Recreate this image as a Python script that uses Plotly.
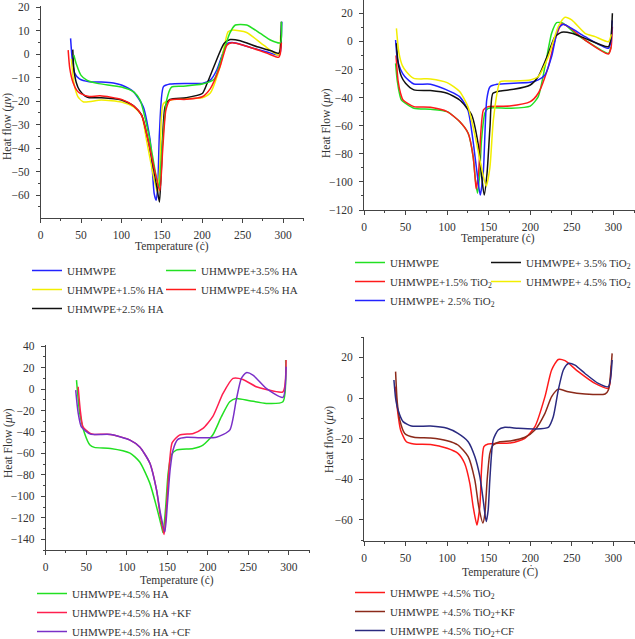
import plotly.graph_objects as go

# ---------------- Panel 1 : UHMWPE + HA ----------------
p1_uhmwpe_T = [37, 39, 42, 48, 60, 75, 90, 100, 115, 127, 135.5, 140.5, 143, 145, 147, 152, 160, 180, 200, 210, 218, 226, 231, 237, 250, 264, 280, 294.6, 296.7, 298.5]
p1_uhmwpe_v = [6.8, -2, -8, -10.5, -11.7, -11.8, -12.2, -13.1, -16, -22.4, -36.6, -59.4, -62.2, -56, -33.8, -13.8, -12.7, -12.4, -12.4, -11, -6.7, 1, 4.6, 5, 4, 2.5, 1, -0.3, 1, 13.9]
p1_ha15_T = [38, 41, 46, 53, 75, 100, 115, 125, 131, 139.7, 144.7, 148, 152, 165, 200, 210, 222, 232, 237, 255, 276, 294.6, 297]
p1_ha15_v = [-2, -12, -18, -20.3, -19.5, -20.3, -22.4, -26, -36.6, -52, -59, -45, -21, -19.2, -18.5, -16.5, -5.3, 9.6, 10.3, 9.3, 3.9, -0.3, 8]
p1_ha25_T = [39.7, 41, 44, 48, 55, 60, 75, 100, 115, 125, 133, 143.8, 147, 149.5, 154, 160, 180, 200, 206, 216, 227, 234.7, 247, 268, 285, 294.6, 296.5, 298]
p1_ha25_v = [2, -6, -12, -15.3, -17.8, -18.5, -18.5, -19.5, -22, -25.9, -36.6, -56.5, -63, -48, -22.4, -19.2, -18.5, -16.7, -12.4, -3.9, 4.6, 6.3, 5.8, 3.2, 1.5, 0.4, 2, 13.9]
p1_ha35_T = [41, 44, 50, 57, 70, 100, 115, 123, 133.5, 143.8, 146.5, 150, 156, 162, 175, 200, 215, 222, 234, 241, 255, 272, 285, 296.7, 298]
p1_ha35_v = [-0.3, -4, -9, -11, -12.4, -13.9, -16, -19.5, -33.8, -53.7, -57, -41, -19.5, -14, -13.6, -12.7, -10.5, -3.9, 8.9, 12.5, 12.5, 8.9, 6, 4.9, 13.9]
p1_ha45_T = [34, 36, 40, 45, 49, 60, 73.5, 100, 115, 125, 133, 141.7, 147.5, 151, 155, 160, 180, 200, 210, 222, 230.6, 237, 250, 263.6, 280, 294.6, 296.5, 298]
p1_ha45_v = [1.8, -6, -12, -15.5, -16.7, -18, -17.7, -19.2, -22, -26, -36.6, -50.5, -58.2, -41, -23.8, -19.5, -19.2, -18.1, -14.6, -5.3, 3.9, 4.9, 4, 2.5, 0.5, -1.3, 0, 5]

# ---------------- Panel 2 : UHMWPE + TiO2 ----------------
p2_uhmwpe_T = [38, 40, 43, 45, 60, 80, 100, 115, 125.3, 131.3, 134, 136.5, 139, 141.4, 145.4, 149.4, 175, 200, 209.6, 217.7, 225.7, 231.7, 239.8, 253.8, 265.9, 294, 297]
p2_uhmwpe_v = [-15.6, -28, -38, -41.7, -47.6, -48.3, -50, -57, -65.4, -82, -98.6, -108, -96, -70, -51, -47.6, -47.6, -46, -39.3, -18, 5.8, 13.4, 12.9, 5.8, 1, -8.5, -4]
p2_ti15_T = [38.5, 41, 44, 47, 60, 80, 100, 115, 125.3, 131.3, 133.5, 135, 138, 140.5, 143.7, 149.4, 175, 200, 209.6, 221.7, 229.7, 237.8, 245.8, 265.9, 294, 297, 298.8]
p2_ti15_v = [-10, -28, -37, -41.7, -46.4, -46.9, -50, -57, -65.4, -82, -96, -105, -92, -65, -48.8, -46.4, -46, -42.9, -36.9, -18, 1, 12.4, 10.5, 1, -8.9, -5, 10.5]
p2_ti25_T = [38, 40, 44, 49, 60, 80, 104, 115, 125, 131, 136.5, 139.8, 143.4, 147.6, 151.4, 160, 180, 200, 209.6, 217.7, 225.7, 233.7, 239.8, 249.8, 265.9, 294, 297, 298.5]
p2_ti25_v = [1, -12, -20, -25, -30.3, -30.5, -35.7, -39.3, -48.8, -70, -96, -109.4, -94, -41.7, -32.4, -30.5, -29.8, -29.1, -27.4, -23.9, -10.8, 9.3, 12.2, 9.3, 3.4, -4.9, 0, 15]
p2_ti35_T = [39, 41, 45, 50, 60, 80, 100, 115, 129.3, 137.3, 142, 144.6, 148, 151.6, 155, 163.5, 180, 200, 209.6, 221.7, 229.7, 237.8, 249.8, 265.9, 294, 297, 298.8]
p2_ti35_v = [-1.3, -15, -25, -29.8, -34.5, -35, -36.9, -41.7, -52, -73, -98.6, -109.4, -94, -60.6, -37, -35.3, -34.1, -31, -25, -8.5, 3.4, 6.5, 5.8, 2.2, -3.7, 2, 20]
p2_ti45_T = [39, 42, 46, 51, 60, 80, 100, 115, 125, 133, 141, 147, 151.4, 155.8, 163.9, 175, 200, 209.6, 221.7, 233.7, 241.8, 249.8, 265.9, 278, 294, 297.5]
p2_ti45_v = [9.3, -8, -17, -21.5, -26.3, -26.7, -29.3, -35.7, -46.4, -65.4, -89, -103, -90, -55, -28.6, -28.2, -27.4, -25, -10.8, 10.5, 17.2, 15.3, 5.8, 3.4, -0.2, 5]

# ---------------- Panel 3 : UHMWPE + 4.5% HA + fibres ----------------
p3_ha_T = [38, 42, 48, 54.6, 60, 80, 104, 116, 128.4, 136.7, 142.8, 144.8, 148, 151, 155, 161, 182, 194, 206, 216.7, 227, 235, 251.5, 272, 292.6, 296]
p3_ha_v = [8.3, -22.7, -41.4, -52.2, -54.4, -55.4, -59.7, -68, -87.7, -109.7, -128, -134, -109.7, -78.6, -61.6, -57, -55.4, -52.2, -42.9, -25.8, -11.9, -8.8, -10.9, -13.4, -11.9, 27]
p3_kf_T = [40, 43, 46, 55, 60, 80, 104, 116, 128.4, 136.7, 140.8, 146, 148.8, 153, 156, 165, 182, 194, 206, 218.7, 231, 243.3, 259.7, 272, 292.6, 296.5]
p3_kf_v = [2.1, -22, -35.2, -41.4, -42.3, -42.3, -47.6, -54, -69, -94, -115.6, -135.5, -112, -66, -50, -42.9, -41.4, -36.7, -25.8, -4.1, 9.9, 8.9, 2.1, -0.4, -2.6, 27]
p3_cf_T = [37, 40, 44, 55, 80, 104, 116, 128.4, 136.7, 141.5, 147, 150, 153.5, 157, 163, 173.6, 190, 210.5, 227, 235, 241.3, 247.4, 255.6, 272, 292.6, 296.5]
p3_cf_v = [-1, -22, -35.2, -42, -42.3, -47.6, -54, -69, -94, -115.6, -133, -108, -75, -57, -47, -45, -45.4, -45, -38.3, -10.3, 9.9, 15.2, 13, 0.6, -7.8, 20.7]

# ---------------- Panel 4 : UHMWPE + 4.5% TiO2 + fibres ----------------
p4_ti_T = [37.8, 40, 44, 51, 60, 80, 100, 113, 121, 127.3, 131.3, 135.8, 139.4, 141.4, 144.2, 149.4, 161.4, 177.5, 193.6, 205.6, 217.7, 225.7, 233.7, 241.8, 257.8, 277.9, 294, 297.5]
p4_ti_v = [5.6, -5, -15.7, -21.5, -22.6, -22.8, -24.7, -27.2, -32.1, -42, -53.4, -62.5, -53, -35, -23.9, -22.6, -22.3, -22, -19.8, -14.1, 0.7, 13.8, 19, 18.4, 13, 7.2, 4.8, 16]
p4_kf_T = [38, 40, 43, 49, 60, 80, 100, 113, 125.3, 133.3, 138, 143, 145.4, 148.2, 151.4, 155.4, 163.5, 177.5, 193.6, 205.6, 217.7, 225.7, 233.7, 245.8, 265.9, 290, 294, 298.5]
p4_kf_v = [13, -2, -10.8, -17.4, -19.3, -19.7, -21, -23.1, -28.8, -40.3, -53.4, -61.5, -57, -40, -27.2, -23.1, -21.5, -21, -19.3, -15.7, -7.5, 0.7, 4.4, 3.1, 2, 2, 4, 22]
p4_cf_T = [36, 38, 41, 47, 57, 80, 100, 113, 125.3, 133.3, 139.4, 143.4, 147, 149.4, 151.4, 155.4, 161.4, 169.5, 185.5, 205.6, 221.7, 227.7, 233.7, 239.8, 245.8, 253.8, 265.9, 281.9, 294, 298.5]
p4_cf_v = [8.9, 0, -5.9, -11.6, -13.8, -13.8, -14.9, -17.4, -21.5, -28.8, -38.7, -50.2, -60.8, -55, -40, -20.6, -15.7, -14.4, -14.9, -15.2, -14.4, -9.2, 3.9, 13.8, 17, 16.2, 12.1, 7.2, 5.6, 18.7]

FONT = "Liberation Serif"
TXT = "#333333"

fig = go.Figure()

def add(x, y, name, color, ax, legend):
    fig.add_trace(go.Scatter(
        x=x, y=y, name=name, mode="lines",
        line=dict(color=color, width=1.5, shape="spline", smoothing=0.6),
        xaxis="x" + ax, yaxis="y" + ax, legend=legend))

# panel 1 (two legend columns)
add(p1_uhmwpe_T, p1_uhmwpe_v, "UHMWPE", "#2222ff", "", "legend")
add(p1_ha15_T, p1_ha15_v, "UHMWPE+1.5% HA", "#f2ee00", "", "legend")
add(p1_ha25_T, p1_ha25_v, "UHMWPE+2.5% HA", "#111111", "", "legend")
add(p1_ha35_T, p1_ha35_v, "UHMWPE+3.5% HA", "#22e022", "", "legend5")
add(p1_ha45_T, p1_ha45_v, "UHMWPE+4.5% HA", "#ff1a1a", "", "legend5")

# panel 2
add(p2_uhmwpe_T, p2_uhmwpe_v, "UHMWPE", "#22e022", "2", "legend2")
add(p2_ti15_T, p2_ti15_v, "UHMWPE+1.5% TiO<sub>2</sub>", "#ff1a1a", "2", "legend2")
add(p2_ti25_T, p2_ti25_v, "UHMWPE+ 2.5% TiO<sub>2</sub>", "#2222ff", "2", "legend2")
add(p2_ti35_T, p2_ti35_v, "UHMWPE+ 3.5% TiO<sub>2</sub>", "#111111", "2", "legend6")
add(p2_ti45_T, p2_ti45_v, "UHMWPE+ 4.5% TiO<sub>2</sub>", "#f2ee00", "2", "legend6")

# panel 3
add(p3_ha_T, p3_ha_v, "UHMWPE+4.5% HA", "#22e022", "3", "legend3")
add(p3_kf_T, p3_kf_v, "UHMWPE+4.5% HA +KF", "#ff1f4f", "3", "legend3")
add(p3_cf_T, p3_cf_v, "UHMWPE+4.5% HA +CF", "#7a30c8", "3", "legend3")

# panel 4
add(p4_ti_T, p4_ti_v, "UHMWPE +4.5% TiO<sub>2</sub>", "#ff1a1a", "4", "legend4")
add(p4_kf_T, p4_kf_v, "UHMWPE +4.5% TiO<sub>2</sub>+KF", "#8b2a1a", "4", "legend4")
add(p4_cf_T, p4_cf_v, "UHMWPE +4.5% TiO<sub>2</sub>+CF", "#2a2a80", "4", "legend4")

W, H = 635, 639

def px(x):
    return x / W

def py(y):
    return 1 - y / H

def xax(dom, anchor):
    return dict(domain=dom, anchor=anchor, range=[0, 326], dtick=50, tick0=0,
                showline=True, linecolor="#444", linewidth=1, ticks="outside", ticklen=4,
                tickcolor="#444", minor=dict(ticks="outside", ticklen=2, dtick=25, tickcolor="#444"),
                showgrid=False, zeroline=False, ticklabelstandoff=2, automargin=False,
                tickfont=dict(family=FONT, size=11.5, color=TXT))

def yax(dom, anchor, rng, dt):
    return dict(domain=dom, anchor=anchor, range=rng, dtick=dt, tick0=0,
                showline=True, linecolor="#444", linewidth=1, ticks="outside", ticklen=4,
                tickcolor="#444", minor=dict(ticks="outside", ticklen=2, dtick=dt / 2, tickcolor="#444"),
                showgrid=False, zeroline=False, ticklabelstandoff=4, automargin=False,
                tickfont=dict(family=FONT, size=11.5, color=TXT))

leg_common = dict(font=dict(family=FONT, size=11, color=TXT), bgcolor="rgba(0,0,0,0)",
                  xanchor="left", yanchor="top", orientation="v", tracegroupgap=0)

fig.update_layout(
    width=W, height=H, margin=dict(l=0, r=0, t=0, b=0, pad=0, autoexpand=False),
    paper_bgcolor="white", plot_bgcolor="white",
    font=dict(family=FONT, size=11, color=TXT),
    xaxis=xax([px(40.7), px(304)], "y"),
    yaxis=yax([py(218), py(6)], "x", [-69.8, 20.6], 10),
    xaxis2=xax([px(364), 1.0], "y2"),
    yaxis2=yax([py(210), 1.0], "x2", [-120, 29.5], 20),
    xaxis3=xax([px(45.7), px(310)], "y3"),
    yaxis3=yax([py(550), py(345)], "x3", [-150, 41], 20),
    xaxis4=xax([px(364), 1.0], "y4"),
    yaxis4=yax([py(540.7), py(336.7)], "x4", [-70.2, 30.2], 20),
    legend=dict(leg_common, x=px(27), y=py(256)),
    legend5=dict(leg_common, x=px(161), y=py(256)),
    legend2=dict(leg_common, x=px(350), y=py(248)),
    legend6=dict(leg_common, x=px(486), y=py(248)),
    legend3=dict(leg_common, x=px(32), y=py(579)),
    legend4=dict(leg_common, x=px(350), y=py(578)),
    showlegend=True,
)

ann = [
    ("Temperature (ċ)", 172, 246, 0),
    ("Temperature (ċ)", 498, 238, 0),
    ("Temperature (ċ)", 177, 580, 0),
    ("Temperature (Ċ)", 500, 571, 0),
    ("Heat flow (<i>μv</i>)", 8, 127, -90),
    ("Heat Flow (<i>μv</i>)", 326, 123, -90),
    ("Heat Flow (<i>μv</i>)", 8, 443, -90),
    ("Heat flow (<i>μv</i>)", 330, 440, -90),
]
for text, x, y, ang in ann:
    fig.add_annotation(text=text, x=px(x), y=py(y), xref="paper", yref="paper",
                       showarrow=False, textangle=ang, xanchor="center", yanchor="middle",
                       font=dict(family=FONT, size=11.5, color=TXT))

# remove the default 8px page margin so the figure sits at the window's corner
fig.write_html("out.html",
               config={"displayModeBar": False},
               post_script="document.body.style.margin='0';document.body.style.overflow='hidden';")
